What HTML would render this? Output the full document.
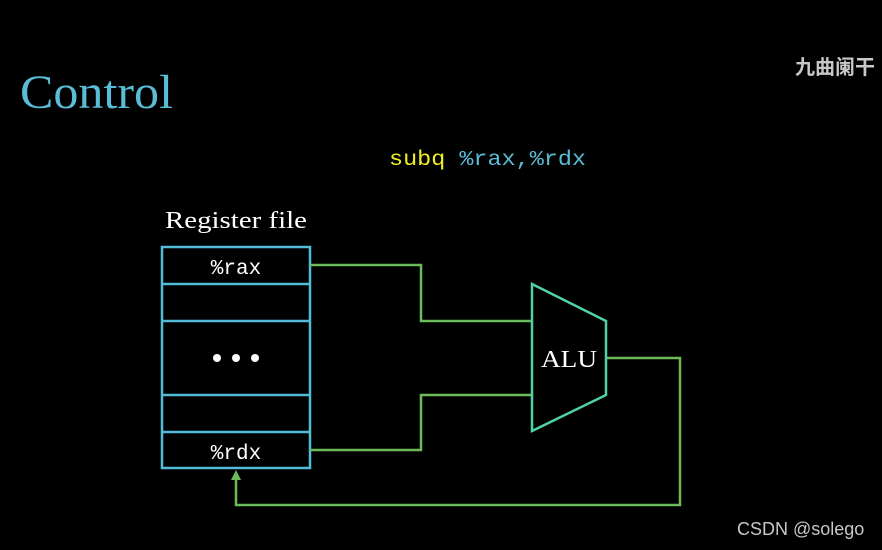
<!DOCTYPE html>
<html><head><meta charset="utf-8"><style>
html,body{margin:0;padding:0;background:#000;}
svg{display:block}
</style></head><body>
<svg width="882" height="550" viewBox="0 0 882 550" xmlns="http://www.w3.org/2000/svg">
<rect width="882" height="550" fill="#000"/>
<text x="20" y="108" font-family="Liberation Serif, serif" font-size="48" fill="#5bbcd6" textLength="153" lengthAdjust="spacingAndGlyphs">Control</text>
<text x="795" y="74" font-family="Liberation Sans, Noto Sans CJK SC, sans-serif" font-size="20" font-weight="bold" fill="#c8c8c8">九曲阑干</text>
<text x="389" y="165" font-family="Liberation Mono, monospace" font-size="21" textLength="197" lengthAdjust="spacingAndGlyphs"><tspan fill="#f0f020">subq</tspan><tspan fill="#5bbcd6"> %rax,%rdx</tspan></text>
<text x="165" y="228" font-family="Liberation Serif, serif" font-size="24" fill="#fff" textLength="142" lengthAdjust="spacingAndGlyphs">Register file</text>
<g stroke="#52bcd8" stroke-width="2.5" fill="none">
<rect x="162" y="247" width="148" height="221"/>
<line x1="162" y1="284" x2="310" y2="284"/>
<line x1="162" y1="321" x2="310" y2="321"/>
<line x1="162" y1="395" x2="310" y2="395"/>
<line x1="162" y1="432" x2="310" y2="432"/>
</g>
<text x="236" y="274" text-anchor="middle" font-family="Liberation Mono, monospace" font-size="21" fill="#fff">%rax</text>
<text x="236" y="459" text-anchor="middle" font-family="Liberation Mono, monospace" font-size="21" fill="#fff">%rdx</text>
<g fill="#fff"><circle cx="217" cy="358" r="4"/><circle cx="236" cy="358" r="4"/><circle cx="255" cy="358" r="4"/></g>
<g stroke="#6cbb5a" stroke-width="2.5" fill="none">
<polyline points="310,265 421,265 421,321 532,321"/>
<polyline points="310,450 421,450 421,395 532,395"/>
<polyline points="606,358 680,358 680,505 236,505 236,478"/>
</g>
<polygon points="236,470 231,480 241,480" fill="#6cbb5a"/>
<polygon points="532,284 606,321 606,395 532,431" fill="none" stroke="#4fd2a4" stroke-width="2.5"/>
<text x="541" y="367" font-family="Liberation Serif, serif" font-size="24" fill="#fff" textLength="56" lengthAdjust="spacingAndGlyphs">ALU</text>
<text x="737" y="535" font-family="Liberation Sans, sans-serif" font-size="18" fill="#c8c8c8">CSDN @solego</text>
</svg>
</body></html>
